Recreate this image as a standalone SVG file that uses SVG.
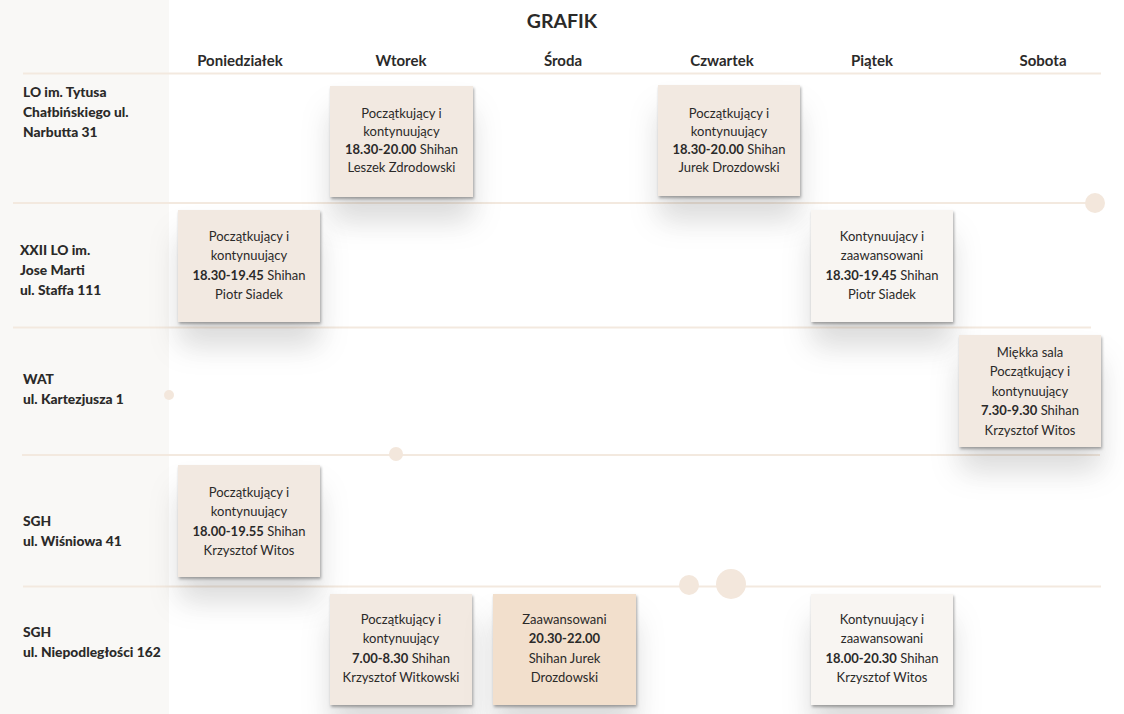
<svg xmlns="http://www.w3.org/2000/svg" width="1124" height="714" viewBox="0 0 1124 714">
<defs>
<style>
text{font-family:"Lato","Noto Sans","Liberation Sans",sans-serif;fill:#2b2a29}
.t{font-size:19.5px;font-weight:bold;text-anchor:middle}
.d{font-size:15px;font-weight:bold;text-anchor:middle}
.l{font-size:13.8px;font-weight:900}
.c{font-size:13px;text-anchor:middle}
.b{font-weight:bold}
.ln{stroke:#f3e9df;stroke-width:2;fill:none}
.dot{fill:#f3e7dc}
.k1{fill:#f2e9e1}
.k2{fill:#f8f5f2}
.k3{fill:#f2dfcc}
</style>
<filter id="sh" x="-40%" y="-30%" width="180%" height="190%">
<feDropShadow dx="0" dy="24" stdDeviation="15" flood-color="#000" flood-opacity="0.11"/>
<feDropShadow dx="1" dy="2" stdDeviation="1.5" flood-color="#000" flood-opacity="0.35"/>
</filter>
</defs>
<rect width="1124" height="714" fill="#ffffff"/>
<rect width="169" height="714" fill="#f9f8f6"/>

<g id="connectors">
<line class="ln" x1="23" y1="73.5" x2="1101" y2="73.5"/>
<line class="ln" x1="13" y1="203" x2="1095" y2="203"/>
<line class="ln" x1="13" y1="327.5" x2="1091" y2="327.5"/>
<line class="ln" x1="22" y1="455" x2="1100" y2="455"/>
<line class="ln" x1="23" y1="586.5" x2="1101" y2="586.5"/>
<circle class="dot" cx="1095" cy="203" r="10"/>
<circle class="dot" cx="169" cy="395" r="5"/>
<circle class="dot" cx="396" cy="454" r="7"/>
<circle class="dot" cx="689" cy="585" r="10"/>
<circle class="dot" cx="731" cy="584" r="15"/>
</g>

<g id="header">
<text class="t" x="562" y="28">GRAFIK</text>
<text class="d" x="240" y="66">Poniedziałek</text>
<text class="d" x="401" y="66">Wtorek</text>
<text class="d" x="563" y="66">Środa</text>
<text class="d" x="722" y="66">Czwartek</text>
<text class="d" x="872" y="66">Piątek</text>
<text class="d" x="1043" y="66">Sobota</text>
</g>

<g id="locations">
<text class="l" x="23" y="97">LO im. Tytusa</text>
<text class="l" x="23" y="117">Chałbińskiego ul.</text>
<text class="l" x="23" y="137">Narbutta 31</text>
<text class="l" x="20" y="255">XXII LO im.</text>
<text class="l" x="20" y="275">Jose Marti</text>
<text class="l" x="20" y="295">ul. Staffa 111</text>
<text class="l" x="23" y="384">WAT</text>
<text class="l" x="23" y="404">ul. Kartezjusza 1</text>
<text class="l" x="23" y="526">SGH</text>
<text class="l" x="23" y="546">ul. Wiśniowa 41</text>
<text class="l" x="23" y="637">SGH</text>
<text class="l" x="23" y="657">ul. Niepodległości 162</text>
</g>

<g id="card-lo-wtorek">
<rect class="k1" x="330" y="86" width="143" height="111" filter="url(#sh)"/>
<text class="c" x="401.5" y="118">Początkujący i</text>
<text class="c" x="401.5" y="136">kontynuujący</text>
<text class="c" x="401.5" y="154"><tspan class="b">18.30-20.00</tspan> Shihan</text>
<text class="c" x="401.5" y="172">Leszek Zdrodowski</text>
</g>

<g id="card-lo-czwartek">
<rect class="k1" x="658" y="85" width="142" height="111" filter="url(#sh)"/>
<text class="c" x="729" y="117.5">Początkujący i</text>
<text class="c" x="729" y="135.5">kontynuujący</text>
<text class="c" x="729" y="153.5"><tspan class="b">18.30-20.00</tspan> Shihan</text>
<text class="c" x="729" y="171.5">Jurek Drozdowski</text>
</g>

<g id="card-xxii-poniedzialek">
<rect class="k1" x="178" y="210" width="142" height="112" filter="url(#sh)"/>
<text class="c" x="249" y="240.5">Początkujący i</text>
<text class="c" x="249" y="260">kontynuujący</text>
<text class="c" x="249" y="279.5"><tspan class="b">18.30-19.45</tspan> Shihan</text>
<text class="c" x="249" y="299">Piotr Siadek</text>
</g>

<g id="card-xxii-piatek">
<rect class="k2" x="811" y="210" width="142" height="112" filter="url(#sh)"/>
<text class="c" x="882" y="240.5">Kontynuujący i</text>
<text class="c" x="882" y="260">zaawansowani</text>
<text class="c" x="882" y="279.5"><tspan class="b">18.30-19.45</tspan> Shihan</text>
<text class="c" x="882" y="299">Piotr Siadek</text>
</g>

<g id="card-wat-sobota">
<rect class="k1" x="959" y="335" width="142" height="112" filter="url(#sh)"/>
<text class="c" x="1030" y="356.5">Miękka sala</text>
<text class="c" x="1030" y="376">Początkujący i</text>
<text class="c" x="1030" y="395.5">kontynuujący</text>
<text class="c" x="1030" y="415"><tspan class="b">7.30-9.30</tspan> Shihan</text>
<text class="c" x="1030" y="434.5">Krzysztof Witos</text>
</g>

<g id="card-sgh1-poniedzialek">
<rect class="k1" x="178" y="465" width="142" height="112" filter="url(#sh)"/>
<text class="c" x="249" y="496.5">Początkujący i</text>
<text class="c" x="249" y="516">kontynuujący</text>
<text class="c" x="249" y="535.5"><tspan class="b">18.00-19.55</tspan> Shihan</text>
<text class="c" x="249" y="555">Krzysztof Witos</text>
</g>

<g id="card-sgh2-wtorek">
<rect class="k1" x="330" y="594" width="142" height="111" filter="url(#sh)"/>
<text class="c" x="401" y="623.5">Początkujący i</text>
<text class="c" x="401" y="643">kontynuujący</text>
<text class="c" x="401" y="662.5"><tspan class="b">7.00-8.30</tspan> Shihan</text>
<text class="c" x="401" y="682">Krzysztof Witkowski</text>
</g>

<g id="card-sgh2-sroda">
<rect class="k3" x="493" y="594" width="143" height="111" filter="url(#sh)"/>
<text class="c" x="564.5" y="623.5">Zaawansowani</text>
<text class="c b" x="564.5" y="643">20.30-22.00</text>
<text class="c" x="564.5" y="662.5">Shihan Jurek</text>
<text class="c" x="564.5" y="682">Drozdowski</text>
</g>

<g id="card-sgh2-piatek">
<rect class="k2" x="811" y="594" width="142" height="111" filter="url(#sh)"/>
<text class="c" x="882" y="623.5">Kontynuujący i</text>
<text class="c" x="882" y="643">zaawansowani</text>
<text class="c" x="882" y="662.5"><tspan class="b">18.00-20.30</tspan> Shihan</text>
<text class="c" x="882" y="682">Krzysztof Witos</text>
</g>
</svg>
